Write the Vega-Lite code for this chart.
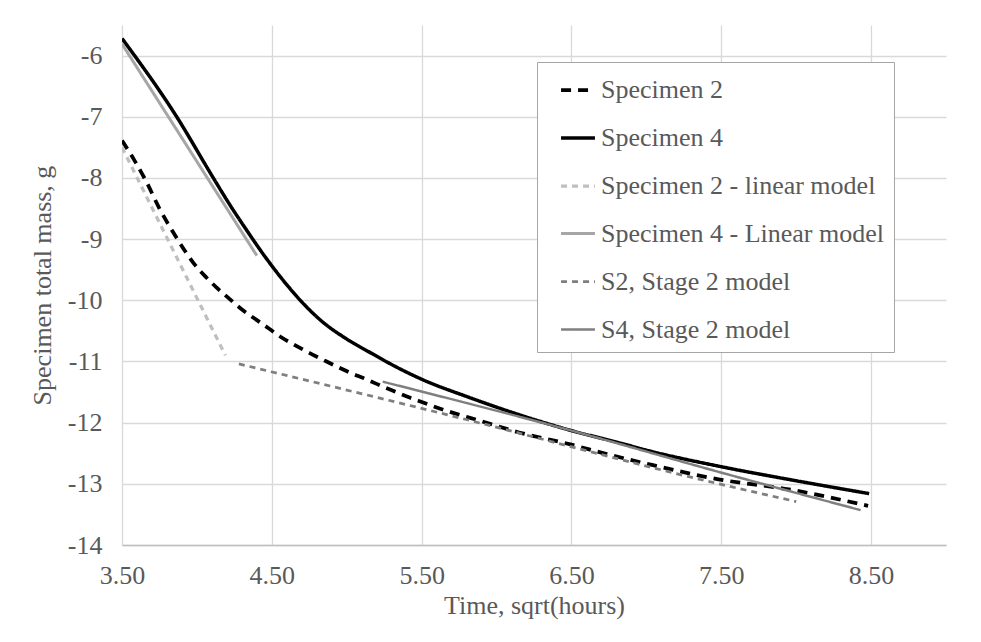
{
  "$schema": "https://vega.github.io/schema/vega-lite/v6.json",
  "width": 824,
  "height": 520,
  "autosize": {"type": "none"},
  "padding": {"left": 122, "top": 25, "right": 35, "bottom": 97},
  "background": "white",
  "config": {
    "view": {"stroke": null},
    "font": "Liberation Serif",
    "axis": {"labelFont": "Liberation Serif", "titleFont": "Liberation Serif", "labelColor": "#595959", "titleColor": "#595959", "labelFontSize": 26, "titleFontSize": 26, "titleFontWeight": "normal", "gridColor": "#d9d9d9", "gridWidth": 1.3, "ticks": false, "labelFlush": false, "labelOverlap": false}
  },
  "data": {"values": [
    {"s": "Specimen 2", "x": 3.5, "y": -7.39},
    {"s": "Specimen 2", "x": 3.58, "y": -7.7},
    {"s": "Specimen 2", "x": 3.66, "y": -8.05},
    {"s": "Specimen 2", "x": 3.75, "y": -8.5},
    {"s": "Specimen 2", "x": 3.87, "y": -9.0},
    {"s": "Specimen 2", "x": 3.98, "y": -9.4},
    {"s": "Specimen 2", "x": 4.06, "y": -9.62},
    {"s": "Specimen 2", "x": 4.13, "y": -9.79},
    {"s": "Specimen 2", "x": 4.21, "y": -9.96},
    {"s": "Specimen 2", "x": 4.29, "y": -10.13},
    {"s": "Specimen 2", "x": 4.38, "y": -10.29},
    {"s": "Specimen 2", "x": 4.48, "y": -10.46},
    {"s": "Specimen 2", "x": 4.56, "y": -10.6},
    {"s": "Specimen 2", "x": 4.66, "y": -10.74},
    {"s": "Specimen 2", "x": 4.75, "y": -10.86},
    {"s": "Specimen 2", "x": 4.84, "y": -10.97},
    {"s": "Specimen 2", "x": 4.94, "y": -11.09},
    {"s": "Specimen 2", "x": 5.03, "y": -11.19},
    {"s": "Specimen 2", "x": 5.13, "y": -11.29},
    {"s": "Specimen 2", "x": 5.23, "y": -11.4},
    {"s": "Specimen 2", "x": 5.33, "y": -11.5},
    {"s": "Specimen 2", "x": 5.42, "y": -11.59},
    {"s": "Specimen 2", "x": 5.51, "y": -11.67},
    {"s": "Specimen 2", "x": 5.61, "y": -11.76},
    {"s": "Specimen 2", "x": 5.89, "y": -11.97},
    {"s": "Specimen 2", "x": 6.15, "y": -12.16},
    {"s": "Specimen 2", "x": 6.5, "y": -12.36},
    {"s": "Specimen 2", "x": 6.73, "y": -12.51},
    {"s": "Specimen 2", "x": 7.0, "y": -12.67},
    {"s": "Specimen 2", "x": 7.49, "y": -12.93},
    {"s": "Specimen 2", "x": 7.95, "y": -13.09},
    {"s": "Specimen 2", "x": 8.48, "y": -13.36},
    {"s": "Specimen 4", "x": 3.5, "y": -5.72},
    {"s": "Specimen 4", "x": 3.865, "y": -7.0},
    {"s": "Specimen 4", "x": 4.107, "y": -7.99},
    {"s": "Specimen 4", "x": 4.22, "y": -8.44},
    {"s": "Specimen 4", "x": 4.353, "y": -8.93},
    {"s": "Specimen 4", "x": 4.409, "y": -9.13},
    {"s": "Specimen 4", "x": 4.498, "y": -9.43},
    {"s": "Specimen 4", "x": 4.598, "y": -9.74},
    {"s": "Specimen 4", "x": 4.709, "y": -10.05},
    {"s": "Specimen 4", "x": 4.842, "y": -10.36},
    {"s": "Specimen 4", "x": 4.998, "y": -10.63},
    {"s": "Specimen 4", "x": 5.175, "y": -10.88},
    {"s": "Specimen 4", "x": 5.331, "y": -11.09},
    {"s": "Specimen 4", "x": 5.5, "y": -11.29},
    {"s": "Specimen 4", "x": 5.82, "y": -11.59},
    {"s": "Specimen 4", "x": 6.15, "y": -11.87},
    {"s": "Specimen 4", "x": 6.5, "y": -12.13},
    {"s": "Specimen 4", "x": 6.82, "y": -12.33},
    {"s": "Specimen 4", "x": 7.0, "y": -12.45},
    {"s": "Specimen 4", "x": 7.5, "y": -12.72},
    {"s": "Specimen 4", "x": 8.0, "y": -12.95},
    {"s": "Specimen 4", "x": 8.487, "y": -13.16},
    {"s": "Specimen 2 - linear model", "x": 3.5, "y": -7.5},
    {"s": "Specimen 2 - linear model", "x": 4.19, "y": -10.9},
    {"s": "Specimen 4 - Linear model", "x": 3.5, "y": -5.81},
    {"s": "Specimen 4 - Linear model", "x": 4.4, "y": -9.27},
    {"s": "S2, Stage 2 model", "x": 4.28, "y": -11.04},
    {"s": "S2, Stage 2 model", "x": 5.62, "y": -11.84},
    {"s": "S2, Stage 2 model", "x": 7.5, "y": -13.01},
    {"s": "S2, Stage 2 model", "x": 8.0, "y": -13.29},
    {"s": "S4, Stage 2 model", "x": 5.24, "y": -11.33},
    {"s": "S4, Stage 2 model", "x": 6.5, "y": -12.13},
    {"s": "S4, Stage 2 model", "x": 7.49, "y": -12.81},
    {"s": "S4, Stage 2 model", "x": 8.43, "y": -13.43}
  ]},
  "mark": {"type": "line", "clip": true, "interpolate": "monotone"},
  "encoding": {
    "x": {"field": "x", "type": "quantitative", "scale": {"domain": [3.5, 9.0], "nice": false, "zero": false},
      "axis": {"values": [3.5, 4.5, 5.5, 6.5, 7.5, 8.5], "format": ".2f", "title": "Time, sqrt(hours)", "labelPadding": 17, "titlePadding": 4, "domainColor": "#bfbfbf", "domainWidth": 1.3, "gridColor": "#d9d9d9"}},
    "y": {"field": "y", "type": "quantitative", "scale": {"domain": [-14, -5.5], "nice": false, "zero": false},
      "axis": {"values": [-14, -13, -12, -11, -10, -9, -8, -7, -6], "labelExpr": "'' + datum.value", "title": "Specimen total mass, g", "domain": false, "labelPadding": 20, "titlePadding": 12}},
    "color": {"field": "s", "type": "nominal",
      "scale": {"domain": ["Specimen 2", "Specimen 4", "Specimen 2 - linear model", "Specimen 4 - Linear model", "S2, Stage 2 model", "S4, Stage 2 model"],
        "range": ["#000000", "#000000", "#bfbfbf", "#a6a6a6", "#7f7f7f", "#7f7f7f"]},
      "legend": {"title": null, "orient": "none", "legendX": 415, "legendY": 37, "padding": 9, "symbolOffset": 13, "fillColor": "white", "strokeColor": "#a6a6a6", "symbolType": "stroke", "symbolSize": 1150, "labelFont": "Liberation Serif", "labelFontSize": 26, "labelColor": "#595959", "labelOffset": 4, "rowPadding": 16, "labelLimit": 500}},
    "strokeDash": {"field": "s", "type": "nominal",
      "scale": {"domain": ["Specimen 2", "Specimen 4", "Specimen 2 - linear model", "Specimen 4 - Linear model", "S2, Stage 2 model", "S4, Stage 2 model"],
        "range": [[10, 7], [1, 0], [6, 5], [1, 0], [6, 5], [1, 0]]},
      "legend": {"title": null, "orient": "none", "legendX": 415, "legendY": 37, "padding": 9, "symbolOffset": 13, "fillColor": "white", "strokeColor": "#a6a6a6", "symbolType": "stroke", "symbolSize": 1150, "labelFont": "Liberation Serif", "labelFontSize": 26, "labelColor": "#595959", "labelOffset": 4, "rowPadding": 16, "labelLimit": 500}},
    "strokeWidth": {"field": "s", "type": "nominal",
      "scale": {"domain": ["Specimen 2", "Specimen 4", "Specimen 2 - linear model", "Specimen 4 - Linear model", "S2, Stage 2 model", "S4, Stage 2 model"],
        "range": [3.75, 2.5, 1.75, 3.25, 2, 2.5]},
      "legend": {"title": null, "orient": "none", "legendX": 415, "legendY": 37, "padding": 9, "symbolOffset": 13, "fillColor": "white", "strokeColor": "#a6a6a6", "symbolType": "stroke", "symbolSize": 1150, "labelFont": "Liberation Serif", "labelFontSize": 26, "labelColor": "#595959", "labelOffset": 4, "rowPadding": 16, "labelLimit": 500}}
  }
}
